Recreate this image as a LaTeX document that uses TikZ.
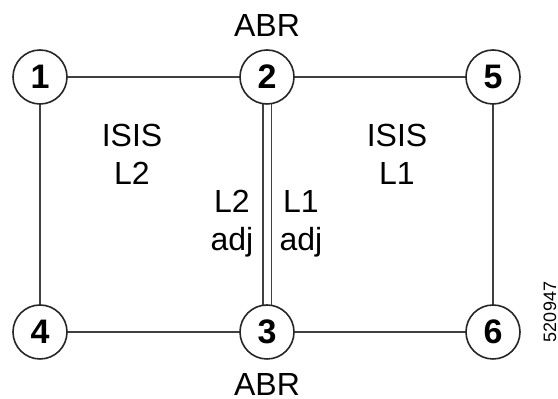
\documentclass[tikz,border=0pt]{standalone}
\usepackage{fontspec}
\setmainfont{Liberation Sans}
\usetikzlibrary{positioning,backgrounds}

\begin{document}
\begin{tikzpicture}[
  x=0.5pt, y=-0.5pt,
  every node/.style={font=\fontsize{16}{19}\selectfont},
  router/.style={
    circle, draw=black!85, line width=0.8pt, fill=white,
    minimum size=27pt, inner sep=0pt,
    font=\fontsize{17}{19}\selectfont\bfseries
  },
  link/.style={draw=black!75, line width=0.6pt},
  adjlink/.style={link, double=white, double distance=3.5pt},
  area/.style={align=center},
  figid/.style={rotate=90, font=\fontsize{9}{10}\selectfont}
]
  \useasboundingbox (0,0) rectangle (558,399);

  % Routers
  \node[router] (r1) at (40,77) {1};
  \node[router] (r2) at (267,77) {2};
  \node[router] (r5) at (493,77) {5};
  \node[router] (r4) at (40,332) {4};
  \node[router] (r3) at (267,332) {3};
  \node[router] (r6) at (493,332) {6};

  % ABR labels
  \node (abrtop) at (267,26) {ABR};
  \node (abrbot) at (267,384) {ABR};

  % Areas
  \node[area] (isisl2) at (132,154) {ISIS\\L2};
  \node[area] (isisl1) at (397,154) {ISIS\\L1};
  \node[area] (adjl2) at (232,224) {L2\\adj};
  \node[area] (adjl1) at (301,224) {L1\\adj};

  % Figure id
  \node[figid] (fig) at (550,312) {520947};

  % Links
  \begin{scope}[on background layer]
    \draw[link] (r1.center) -- (r2.center) -- (r5.center) -- (r6.center)
      -- (r3.center) -- (r4.center) -- cycle;
    \draw[adjlink] (r2.center) -- (r3.center);
  \end{scope}
\end{tikzpicture}
\end{document}
